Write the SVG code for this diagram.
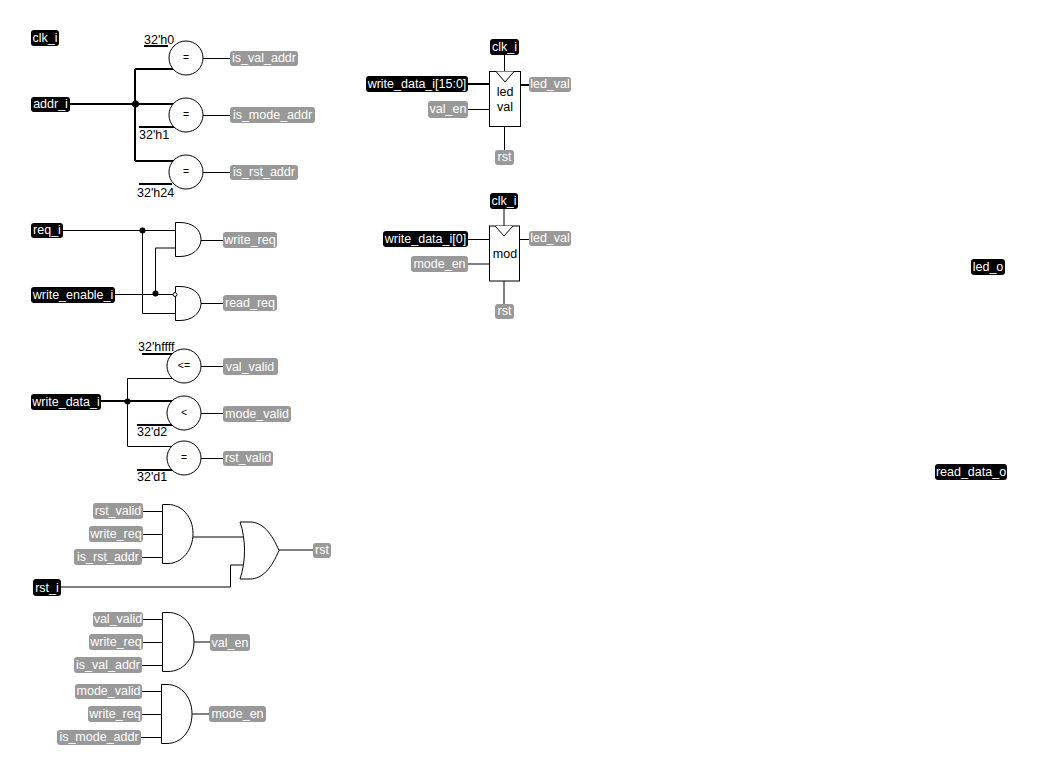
<svg xmlns="http://www.w3.org/2000/svg" width="1037" height="776" viewBox="0 0 1037 776">
<style>
text{font-family:"Liberation Sans",Arial,sans-serif;font-size:12.500px}
.lb text{fill:#fff;text-anchor:middle}
.lb rect{rx:3px;ry:3px}
.i rect{fill:#000}
.n rect{fill:#999}
.g{fill:#fff;stroke:#000;stroke-width:1}
.op{fill:#000;text-anchor:middle}
.s{font-size:10.500px}
.c{fill:#000;text-anchor:start}
#connectors path{fill:none;stroke:#000;stroke-width:1}
#connectors .b{stroke-width:2}
#connectors circle{fill:#000;stroke:none}
</style>
<rect width="1037" height="776" fill="#fff"/>
<g id="connectors">
<path class="b" d="M70,104H135M135,69V161M135,69H174M135,104H174M135,161H174"/>
<path class="b" d="M144,46H168M139,127H174M139,184H172"/>
<path d="M203,58.500H230M203,115.500H230M203,172.500H230"/>
<circle cx="135.500" cy="104" r="3.500"/>
<path d="M63,230.500H142M142,230.500H175M142.500,230V313.500H175M115,294.500H173M155.500,294V248H175"/>
<path d="M201,240.500H223M201,303.500H223"/>
<circle cx="142.500" cy="230.500" r="3"/><circle cx="155.500" cy="293.500" r="3"/>
<path d="M127.500,378.500V446M127.500,378.500H172M127.500,446.500H172"/>
<path class="b" d="M101,401H172M142,354H172M137,425H172M137,470H172"/>
<path d="M201,366.500H223M201,413.500H223M201,458.500H223"/>
<circle cx="127.500" cy="401.500" r="3"/>
<path d="M143,511.500H162M143,534.500H162M142,557.500H162M193,537H243M61,587H230.500V565H243M279,550H313"/>
<path d="M143,619.500H162M143,642.500H162M142,665.500H162M194,642H210M142,691.500H161M142,714.500H161M141,737.500H161M192,714H209"/>
<path d="M504.500,55V71M468,109.500H489M504.500,126V150M504,209V226M468,264H489M504,281V304M468,239.500H489M519,239.500H529"/>
<path class="b" d="M468,84H489M520,85H529"/>
</g>
<g id="clk_i_1" class="lb i"><rect x="31" y="30" width="28" height="16"/><text x="45" y="42">clk_i</text></g>
<g id="addr_i" class="lb i"><rect x="31" y="97" width="39" height="15"/><text x="50.500" y="108">addr_i</text></g>
<g id="eq_val"><circle class="g" cx="186" cy="58" r="17"/><text class="op s" x="186" y="61">=</text><text class="c" x="144" y="44">32'h0</text></g>
<g id="eq_mode"><circle class="g" cx="186" cy="115" r="17"/><text class="op s" x="186" y="118">=</text><text class="c" x="139" y="139">32'h1</text></g>
<g id="eq_rst"><circle class="g" cx="186" cy="172" r="17"/><text class="op s" x="186" y="175">=</text><text class="c" x="137" y="197">32'h24</text></g>
<g id="is_val_addr" class="lb n"><rect x="230" y="51" width="68" height="15"/><text x="264" y="62">is_val_addr</text></g>
<g id="is_mode_addr" class="lb n"><rect x="230" y="107" width="85" height="16"/><text x="272.500" y="119">is_mode_addr</text></g>
<g id="is_rst_addr" class="lb n"><rect x="230" y="165" width="68" height="15"/><text x="264" y="176">is_rst_addr</text></g>
<g id="req_i" class="lb i"><rect x="31" y="223" width="32" height="15"/><text x="47" y="234">req_i</text></g>
<g id="write_enable_i" class="lb i"><rect x="31" y="287" width="84" height="16"/><text x="73" y="299">write_enable_i</text></g>
<g id="and_write"><path class="g" d="M175.500,222.500H180C192,222.500 201,229 201,239.500C201,249 192,256.500 180,256.500H175.500Z"/></g>
<g id="and_read"><path class="g" d="M175.500,286.500H180C192,286.500 201,293 201,303.500C201,313 192,320.500 180,320.500H175.500Z"/><circle class="g" cx="175" cy="294.500" r="2"/></g>
<g id="write_req" class="lb n"><rect x="223" y="232" width="54" height="16"/><text x="250" y="244">write_req</text></g>
<g id="read_req" class="lb n"><rect x="223" y="295" width="54" height="16"/><text x="250" y="307">read_req</text></g>
<g id="write_data_i" class="lb i"><rect x="31" y="394" width="70" height="16"/><text x="66" y="406">write_data_i</text></g>
<g id="le_val"><circle class="g" cx="184" cy="366" r="17"/><text class="op s" x="184" y="369">&lt;=</text><text class="c" x="138" y="351">32'hffff</text></g>
<g id="lt_mode"><circle class="g" cx="184" cy="413" r="17"/><text class="op s" x="184" y="416">&lt;</text><text class="c" x="137" y="436">32'd2</text></g>
<g id="eq_valid"><circle class="g" cx="184" cy="458" r="17"/><text class="op s" x="184" y="461">=</text><text class="c" x="137" y="481">32'd1</text></g>
<g id="val_valid" class="lb n"><rect x="223" y="358" width="55" height="17"/><text x="250" y="371">val_valid</text></g>
<g id="mode_valid" class="lb n"><rect x="223" y="406" width="68" height="16"/><text x="257" y="418">mode_valid</text></g>
<g id="rst_valid" class="lb n"><rect x="223" y="451" width="50" height="15"/><text x="248" y="462">rst_valid</text></g>
<g id="rst_valid_2" class="lb n"><rect x="93" y="503" width="50" height="16"/><text x="118" y="515">rst_valid</text></g>
<g id="write_req_2" class="lb n"><rect x="89" y="526" width="54" height="16"/><text x="116" y="538">write_req</text></g>
<g id="is_rst_addr_2" class="lb n"><rect x="74" y="549" width="68" height="16"/><text x="108" y="561">is_rst_addr</text></g>
<g id="and_rst"><path class="g" d="M162.500,504.500H168C182,504.500 193,517 193,533.500C193,550 182,563.500 168,563.500H162.500Z"/></g>
<g id="or_rst"><path class="g" d="M240,522H250C263,522 272,534 279,550.500C272,567 263,579 250,579H240C246,562 246,539 240,522Z"/></g>
<g id="rst_i" class="lb i"><rect x="33" y="579" width="28" height="17"/><text x="47" y="592">rst_i</text></g>
<g id="rst_out" class="lb n"><rect x="313" y="543" width="18" height="15"/><text x="322" y="554">rst</text></g>
<g id="val_valid_2" class="lb n"><rect x="93" y="612" width="50" height="15"/><text x="118" y="623">val_valid</text></g>
<g id="write_req_3" class="lb n"><rect x="89" y="634" width="54" height="16"/><text x="116" y="646">write_req</text></g>
<g id="is_val_addr_2" class="lb n"><rect x="74" y="657" width="68" height="16"/><text x="108" y="669">is_val_addr</text></g>
<g id="and_val"><path class="g" d="M162.500,612.500H168C183,612.500 194,625 194,642C194,659 183,671.500 168,671.500H162.500Z"/></g>
<g id="val_en" class="lb n"><rect x="210" y="634" width="40" height="17"/><text x="230" y="647">val_en</text></g>
<g id="mode_valid_2" class="lb n"><rect x="75" y="684" width="67" height="15"/><text x="108.500" y="695">mode_valid</text></g>
<g id="write_req_4" class="lb n"><rect x="88" y="706" width="54" height="16"/><text x="115" y="718">write_req</text></g>
<g id="is_mode_addr_2" class="lb n"><rect x="57" y="730" width="84" height="15"/><text x="99" y="741">is_mode_addr</text></g>
<g id="and_mode"><path class="g" d="M161.500,684.500H167C181,684.500 192,697 192,714C192,731 181,743.500 167,743.500H161.500Z"/></g>
<g id="mode_en" class="lb n"><rect x="209" y="706" width="57" height="16"/><text x="237.500" y="718">mode_en</text></g>
<g id="clk_i_2" class="lb i"><rect x="490" y="39" width="29" height="16"/><text x="504.500" y="51">clk_i</text></g>
<g id="write_data_15_0" class="lb i"><rect x="366" y="76" width="102" height="16"/><text x="417" y="88">write_data_i[15:0]</text></g>
<g id="val_en_2" class="lb n"><rect x="428" y="101" width="40" height="17"/><text x="448" y="113">val_en</text></g>
<g id="led_val_reg"><rect class="g" x="489.500" y="71.500" width="31" height="55"/><path class="g" d="M496,71.500L505,82L514,71.500" fill="none"/><text class="op" x="505" y="96">led</text><text class="op" x="505" y="111">val</text></g>
<g id="led_val_1" class="lb n"><rect x="529" y="77" width="42" height="15"/><text x="550" y="88">led_val</text></g>
<g id="rst_1" class="lb n"><rect x="495" y="150" width="19" height="15"/><text x="504.500" y="161">rst</text></g>
<g id="clk_i_3" class="lb i"><rect x="490" y="193" width="28" height="16"/><text x="504" y="205">clk_i</text></g>
<g id="write_data_0" class="lb i"><rect x="383" y="231" width="85" height="16"/><text x="425.500" y="243">write_data_i[0]</text></g>
<g id="mode_en_2" class="lb n"><rect x="411" y="256" width="57" height="16"/><text x="439.500" y="268">mode_en</text></g>
<g id="mod_reg"><rect class="g" x="489.500" y="226" width="30" height="55"/><path class="g" d="M495,226L504,236L513,226" fill="none"/><text class="op" x="505" y="258">mod</text></g>
<g id="led_val_2" class="lb n"><rect x="529" y="231" width="42" height="15"/><text x="550" y="242">led_val</text></g>
<g id="rst_2" class="lb n"><rect x="495" y="304" width="19" height="15"/><text x="504.500" y="315">rst</text></g>
<g id="led_o" class="lb i"><rect x="971" y="259" width="34" height="16"/><text x="988" y="271">led_o</text></g>
<g id="read_data_o" class="lb i"><rect x="935" y="464" width="72" height="16"/><text x="971" y="476">read_data_o</text></g>
</svg>
